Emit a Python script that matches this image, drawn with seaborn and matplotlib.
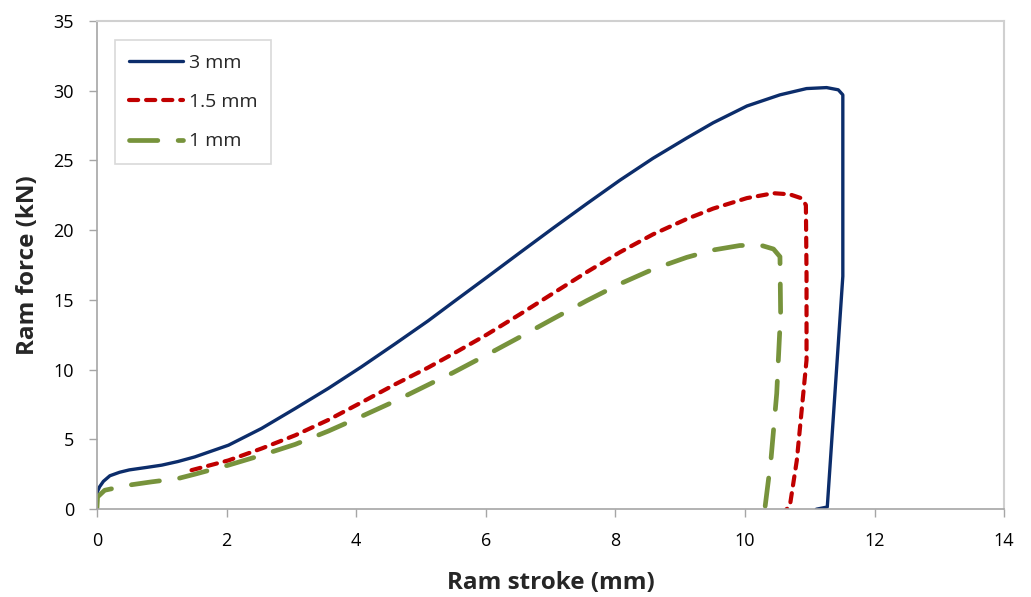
import numpy as np
import pandas as pd
import matplotlib
matplotlib.use("Agg")
import matplotlib.pyplot as plt
import seaborn as sns

# ---- data ----
x_3mm = [0.0, 0.04, 0.1, 0.2, 0.35, 0.5, 0.77, 1.0, 1.25, 1.51, 2.03, 2.54,
         3.06, 3.57, 4.08, 4.6, 5.11, 5.5, 6.01, 6.53, 7.04, 7.56, 8.07, 8.58,
         9.1, 9.51, 10.03, 10.54, 10.95, 11.26, 11.44, 11.51, 11.51, 11.27,
         11.1]
f_3mm = [1.17, 1.6, 2.0, 2.4, 2.65, 2.82, 3.0, 3.16, 3.42, 3.75, 4.59, 5.79,
         7.22, 8.66, 10.2, 11.85, 13.5, 14.85, 16.6, 18.4, 20.15, 21.9, 23.58,
         25.15, 26.6, 27.7, 28.9, 29.7, 30.15, 30.22, 30.06, 29.7, 16.7, 0.16,
         0.0]

x_15mm = [1.46, 2.03, 2.54, 3.06, 3.57, 4.08, 4.6, 5.11, 5.5, 6.01, 6.53, 7.04,
          7.56, 8.07, 8.58, 9.1, 9.51, 10.03, 10.44, 10.69, 10.87, 10.94,
          10.95, 10.95, 10.9, 10.8, 10.69, 10.64]
f_15mm = [2.8, 3.5, 4.35, 5.3, 6.4, 7.65, 8.95, 10.15, 11.15, 12.5, 13.98,
          15.48, 17.0, 18.42, 19.7, 20.8, 21.55, 22.3, 22.65, 22.57, 22.29,
          21.81, 16.79, 10.7, 8.3, 3.5, 0.16, 0.0]

x_1mm = [0.0, 0.01, 0.12, 0.48, 0.84, 1.25, 1.51, 2.03, 2.54, 3.06, 3.57,
         4.08, 4.6, 5.19, 5.5, 6.01, 6.53, 7.04, 7.56, 8.07, 8.58, 9.1, 9.51,
         9.92, 10.23, 10.44, 10.54, 10.55, 10.49, 10.4, 10.31, 10.2]
f_1mm = [0.05, 0.88, 1.36, 1.72, 1.96, 2.2, 2.51, 3.16, 3.87, 4.65, 5.6,
         6.65, 7.75, 9.1, 9.8, 11.05, 12.35, 13.65, 14.95, 16.15, 17.2,
         18.05, 18.58, 18.9, 18.94, 18.65, 18.1, 14.06, 8.3, 3.5, 0.16, 0.0]

labels = ["3 mm", "1.5 mm", "1 mm"]
x_ticks = [0, 2, 4, 6, 8, 10, 12, 14]
y_ticks = [0, 5, 10, 15, 20, 25, 30, 35]

sns.set_theme(style="white")
plt.rcParams['font.family'] = ['Open Sans', 'DejaVu Sans']

fig = plt.figure(figsize=(10.31, 5.97), dpi=100)
ax = fig.add_axes([0.094, 0.147, 0.880, 0.818])

series = [
    (x_3mm, f_3mm, labels[0], "#0C2D6B", 2.4, None),
    (x_15mm, f_15mm, labels[1], "#C00000", 3.0, (2.2, 1.9)),
    (x_1mm, f_1mm, labels[2], "#77933C", 3.4, (6.0, 4.3)),
]
for xs, fs, lab, col, lw, dash in series:
    df = pd.DataFrame({"x": xs, "y": fs})
    sns.lineplot(data=df, x="x", y="y", sort=False, estimator=None,
                 ax=ax, color=col, linewidth=lw, label=lab)
    ln = ax.get_lines()[-1]
    if dash is not None:
        ln.set_dashes(dash)
        ln.set_dash_capstyle("round")
    ln.set_solid_capstyle("round")
    ln.set_solid_joinstyle("round")

ax.set_xlim(0, 14)
ax.set_ylim(0, 35)
ax.set_xticks(x_ticks)
ax.set_yticks(y_ticks)
ax.tick_params(axis="both", labelsize=13, labelcolor="black", length=5.5,
               width=1, direction="out", bottom=True, left=True, pad=11,
               color="#A6A6A6")
for s in ["left", "bottom"]:
    ax.spines[s].set_color("#A6A6A6")
    ax.spines[s].set_linewidth(1.2)
for s in ["top", "right"]:
    ax.spines[s].set_color("#D0D0D0")
    ax.spines[s].set_linewidth(1.5)

ax.set_xlabel("Ram stroke (mm)", fontsize=17.5, fontweight="bold", labelpad=15)
ax.set_ylabel("Ram force (kN)", fontsize=17.5, fontweight="bold", labelpad=10)

leg = ax.legend(loc="upper left", bbox_to_anchor=(0.02, 0.961), fontsize=14,
                frameon=True, fancybox=False, handlelength=2.8,
                labelspacing=1.1, borderpad=0.7, handletextpad=0.3,
                borderaxespad=0)
leg.get_frame().set_edgecolor("#D0D0D0")
leg.get_frame().set_linewidth(1.2)

fig.savefig("out.png", dpi=100, facecolor="white")
